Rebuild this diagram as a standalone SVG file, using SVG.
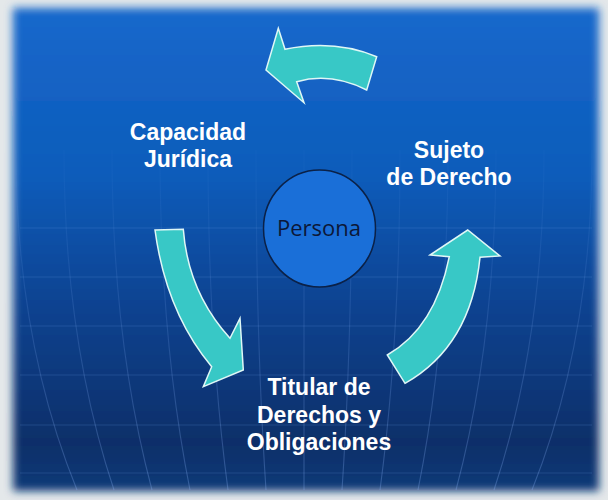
<svg xmlns="http://www.w3.org/2000/svg" width="608" height="500" viewBox="0 0 608 500">
  <defs>
    <linearGradient id="bg" x1="0" y1="0" x2="0" y2="1">
      <stop offset="0" stop-color="#1568cc"/>
      <stop offset="0.35" stop-color="#0f5cba"/>
      <stop offset="0.6" stop-color="#0b4493"/>
      <stop offset="0.9" stop-color="#072f69"/>
      <stop offset="1" stop-color="#0a3a78"/>
    </linearGradient>
    <linearGradient id="gridFade" gradientUnits="userSpaceOnUse" x1="0" y1="120" x2="0" y2="490">
      <stop offset="0" stop-color="#8fb8ff" stop-opacity="0"/>
      <stop offset="1" stop-color="#8fb8ff" stop-opacity="0.28"/>
    </linearGradient>
    <filter id="soft" x="-5%" y="-5%" width="110%" height="110%">
      <feGaussianBlur stdDeviation="4"/>
    </filter>
    <style>
      .arrow { fill: #38c8c6; stroke: #dff7f6; stroke-width: 1.5; stroke-linejoin: miter; }
      .label { font-family: "Liberation Sans", Arial, sans-serif; font-weight: bold; font-size: 23px; fill: #ffffff; text-anchor: middle; }
      .grid { fill: none; stroke: url(#gridFade); stroke-width: 1.1; }
      .hgrid { stroke: #6f9fe6; stroke-opacity: 0.2; stroke-width: 1.1; }
    </style>
  </defs>

  <!-- background -->
  <rect x="0" y="0" width="608" height="500" fill="#e4e8ea"/>
  <rect x="13" y="8" width="586" height="483" fill="url(#bg)" filter="url(#soft)"/>

  <!-- faint globe grid -->
  <g id="grid">
    <line class="hgrid" x1="20" y1="228" x2="592" y2="228" stroke-opacity="0.14"/>
    <line class="hgrid" x1="20" y1="277" x2="592" y2="277"/>
    <line class="hgrid" x1="20" y1="326" x2="592" y2="326"/>
    <line class="hgrid" x1="20" y1="375" x2="592" y2="375" stroke-opacity="0.1"/>
    <line class="hgrid" x1="20" y1="425" x2="592" y2="425"/>
    <line class="hgrid" x1="20" y1="473" x2="592" y2="473"/>
    <path class="grid" d="M16 150 Q 16 340 77 490"/>
    <path class="grid" d="M64 150 Q 64 340 114 490"/>
    <path class="grid" d="M112 150 Q 112 340 152 490"/>
    <path class="grid" d="M160 150 Q 160 340 190 490"/>
    <path class="grid" d="M208 150 Q 208 340 228 490"/>
    <path class="grid" d="M256 150 Q 256 340 266 490"/>
    <path class="grid" d="M304 150 L 304 490"/>
    <path class="grid" d="M352 150 Q 352 340 342 490"/>
    <path class="grid" d="M400 150 Q 400 340 380 490"/>
    <path class="grid" d="M448 150 Q 448 340 418 490"/>
    <path class="grid" d="M496 150 Q 496 340 456 490"/>
    <path class="grid" d="M544 150 Q 544 340 494 490"/>
    <path class="grid" d="M592 150 Q 592 340 532 490"/>
  </g>

  <!-- connectors -->
  <g id="connectors">
    <path id="arrow-top" class="arrow" d="M376.7,56.7 Q 334,39 285,49.3 L 278.3,28.3 L 266,70 L 304,102.7 L 296.7,81.7 Q 331,72 366.7,90 Z"/>
    <path id="arrow-left" class="arrow" d="M155,230 L 183.3,229.3 Q 188,292 230,338.3 L 240,318.3 L 243.3,370 L 203.3,386.7 L 211.7,366.7 Q 166,312 155,230 Z"/>
    <path id="arrow-right" class="arrow" d="M387.3,355 Q 435,328 449.3,256.7 L 430,255 L 467.7,230 L 500,256 L 480,257.3 Q 471,346 405,383.3 Z"/>
  </g>

  <!-- nodes -->
  <g id="persona">
    <ellipse cx="319.5" cy="228.5" rx="56" ry="58.5" fill="#1a6fd8" stroke="#0b2147" stroke-width="1.5"/>
    <text x="319" y="236" font-family="'Open Sans', 'DejaVu Sans', sans-serif" font-size="22" fill="#0c1838" text-anchor="middle">Persona</text>
  </g>
  <g id="capacidad">
    <text class="label" x="188" y="140">Capacidad</text>
    <text class="label" x="188" y="167">Jurídica</text>
  </g>
  <g id="sujeto">
    <text class="label" x="449" y="158">Sujeto</text>
    <text class="label" x="449" y="185">de Derecho</text>
  </g>
  <g id="titular">
    <text class="label" x="319" y="395">Titular de</text>
    <text class="label" x="319" y="423">Derechos y</text>
    <text class="label" x="319" y="450">Obligaciones</text>
  </g>
</svg>
